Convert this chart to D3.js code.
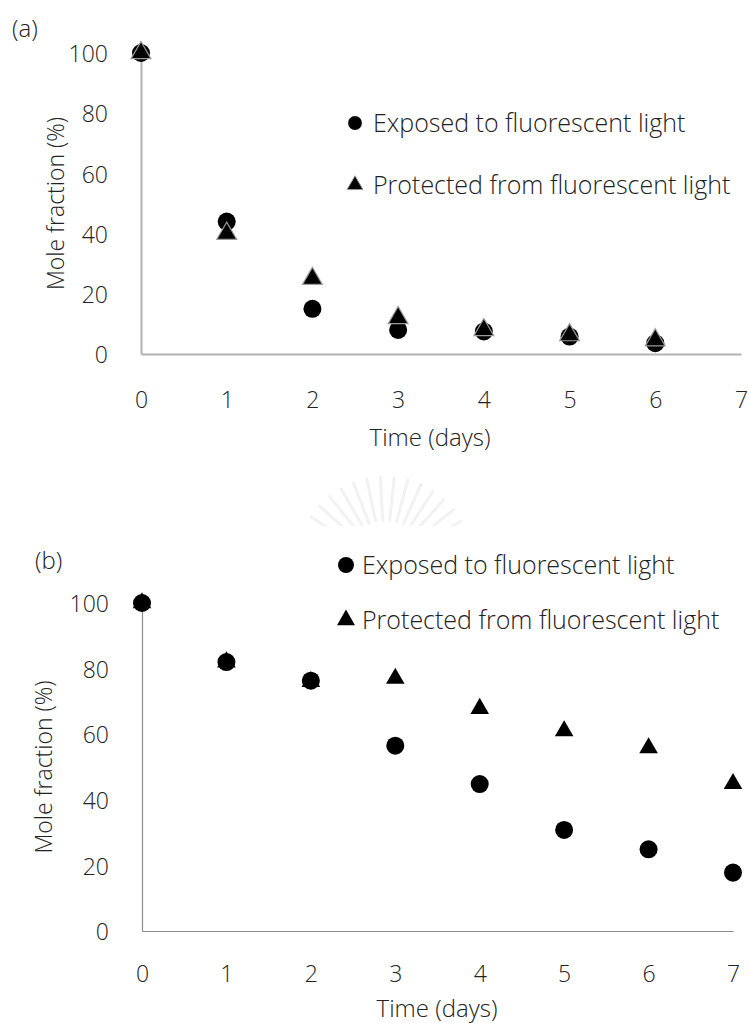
<!DOCTYPE html>
<html>
<head>
<meta charset="utf-8">
<script src="https://cdn.jsdelivr.net/npm/d3@7"></script>
<style>
  html, body { margin: 0; padding: 0; background: #fff; }
  svg { display: block; }
  text { font-family: "Open Sans", "Noto Sans", sans-serif; font-weight: 300; fill: #222; }
</style>
</head>
<body>
<svg id="fig" width="749" height="1023"></svg>
<script>
// Days of storage
const days = [0, 1, 2, 3, 4, 5, 6];
const daysB = [0, 1, 2, 3, 4, 5, 6, 7];

// (a) mole fraction (%)
const exposedA   = [100, 44, 15, 8, 7.5, 5.8, 3.6];
const protectedA = [100, 40, 25, 12, 8, 6.3, 4.6];

// (b) mole fraction (%)
const exposedB   = [100, 82, 76.3, 56.5, 44.8, 30.8, 24.9, 17.8];
const protectedB = [100, 82, 76, 77, 67.8, 61, 55.8, 44.9];

const xTicks = [0, 1, 2, 3, 4, 5, 6, 7];
const yTicks = [0, 20, 40, 60, 80, 100];
const legendLabels = ["Exposed to fluorescent light", "Protected from fluorescent light"];

const svg = d3.select("#fig");

// faint seal printed behind the page, between the panels
svg.append("clipPath").attr("id", "sealClip")
  .append("rect").attr("x", 280).attr("y", 460).attr("width", 220).attr("height", 66);
const seal = svg.append("g").attr("clip-path", "url(#sealClip)")
  .attr("stroke", "#f2f2f2").attr("stroke-width", 3)
  .attr("fill", "none").attr("stroke-linecap", "round");
const rays = d3.range(-75, 76, 9);
seal.selectAll("line").data(rays).join("line")
  .attr("x1", a => 385 + 45 * Math.sin(a * Math.PI / 180))
  .attr("y1", a => 565 - 45 * Math.cos(a * Math.PI / 180))
  .attr("x2", a => 385 + 88 * Math.sin(a * Math.PI / 180))
  .attr("y2", a => 565 - 88 * Math.cos(a * Math.PI / 180));

function panel(cfg) {
  const g = svg.append("g");
  const x = d3.scaleLinear().domain([0, 7]).range([cfg.x0, cfg.x1]);
  const y = d3.scaleLinear().domain([0, 100]).range([cfg.y0, cfg.y1]);

  // y axis
  const ya = g.append("g")
    .attr("transform", `translate(${cfg.x0},0)`)
    .call(d3.axisLeft(y).tickValues(yTicks).tickFormat(d3.format("d"))
      .tickSize(0).tickSizeOuter(0).tickPadding(33));
  ya.select(".domain").attr("stroke", cfg.axisColor).attr("stroke-width", cfg.axisWidth);
  ya.selectAll("text").attr("font-size", 23).attr("fill", "#222")
    .attr("font-family", "'Open Sans', sans-serif").attr("dy", "0.38em");

  // x axis
  const xa = g.append("g")
    .attr("transform", `translate(0,${cfg.y0})`)
    .call(d3.axisBottom(x).tickValues(xTicks).tickFormat(d3.format("d"))
      .tickSize(0).tickSizeOuter(0));
  xa.select(".domain").attr("stroke", cfg.axisColor).attr("stroke-width", cfg.axisWidth);
  xa.selectAll("text").attr("font-size", 23).attr("fill", "#222")
    .attr("font-family", "'Open Sans', sans-serif")
    .attr("y", cfg.xTickGap).attr("dy", "0.36em");

  // axis titles
  g.append("text")
    .attr("transform", `translate(${cfg.yTitleX},${(cfg.y0 + cfg.y1) / 2}) rotate(-90)`)
    .attr("text-anchor", "middle").attr("dy", "0.36em")
    .attr("font-size", 23).text("Mole fraction (%)");
  g.append("text")
    .attr("x", cfg.xTitleX).attr("y", cfg.xTitleY)
    .attr("text-anchor", "middle").attr("dy", "0.36em")
    .attr("font-size", 24).text("Time (days)");

  // panel letter
  g.append("text").attr("x", cfg.tagX).attr("y", cfg.tagY).attr("dy", "0.36em")
    .attr("font-size", 24).text(cfg.tag);

  const circ = d3.symbol().type(d3.symbolCircle).size(255);
  const tri = d3.symbol().type(d3.symbolTriangle).size(cfg.triSize);

  g.append("g").selectAll("path")
    .data(cfg.t.map((t, i) => [t, cfg.e[i]]))
    .join("path")
    .attr("d", circ)
    .attr("transform", d => `translate(${x(d[0])},${y(d[1])})`)
    .attr("fill", "#000");

  g.append("g").selectAll("path")
    .data(cfg.t.map((t, i) => [t, cfg.p[i]]))
    .join("path")
    .attr("d", tri)
    .attr("transform", d => `translate(${x(d[0])},${y(d[1])})`)
    .attr("fill", "#000")
    .attr("stroke", cfg.triStroke)
    .attr("stroke-width", cfg.triStroke === "none" ? 0 : 1.2);

  // legend
  const lg = g.append("g");
  lg.append("path").attr("d", d3.symbol().type(d3.symbolCircle).size(cfg.legCircle))
    .attr("transform", `translate(${cfg.legX},${cfg.legY1})`).attr("fill", "#000");
  lg.append("path").attr("d", d3.symbol().type(d3.symbolTriangle).size(cfg.legTri))
    .attr("transform", `translate(${cfg.legX},${cfg.legY2})`).attr("fill", "#000")
    .attr("stroke", cfg.triStroke).attr("stroke-width", cfg.triStroke === "none" ? 0 : 1);
  lg.append("text").attr("x", cfg.legTextX).attr("y", cfg.legY1).attr("dy", "0.36em")
    .attr("font-size", 25).text(legendLabels[0]);
  lg.append("text").attr("x", cfg.legTextX).attr("y", cfg.legY2).attr("dy", "0.36em")
    .attr("font-size", 25).text(legendLabels[1]);
}

panel({
  tag: "(a)", tagX: 12, tagY: 28,
  x0: 141, x1: 741, y0: 354, y1: 53,
  axisColor: "#b4b4b4", axisWidth: 2, xTickGap: 46,
  yTitleX: 56, xTitleX: 430, xTitleY: 437,
  t: days, e: exposedA, p: protectedA,
  triSize: 170, triStroke: "#9a9a9a",
  legX: 355, legY1: 123, legY2: 185, legTextX: 373, legCircle: 150, legTri: 110
});

panel({
  tag: "(b)", tagX: 35, tagY: 560,
  x0: 142, x1: 733, y0: 931, y1: 603,
  axisColor: "#8c8c8c", axisWidth: 1.2, xTickGap: 43,
  yTitleX: 44, xTitleX: 437, xTitleY: 1008,
  t: daysB, e: exposedB, p: protectedB,
  triSize: 150, triStroke: "none",
  legX: 346, legY1: 565, legY2: 620, legTextX: 362, legCircle: 200, legTri: 140
});
</script>
</body>
</html>
